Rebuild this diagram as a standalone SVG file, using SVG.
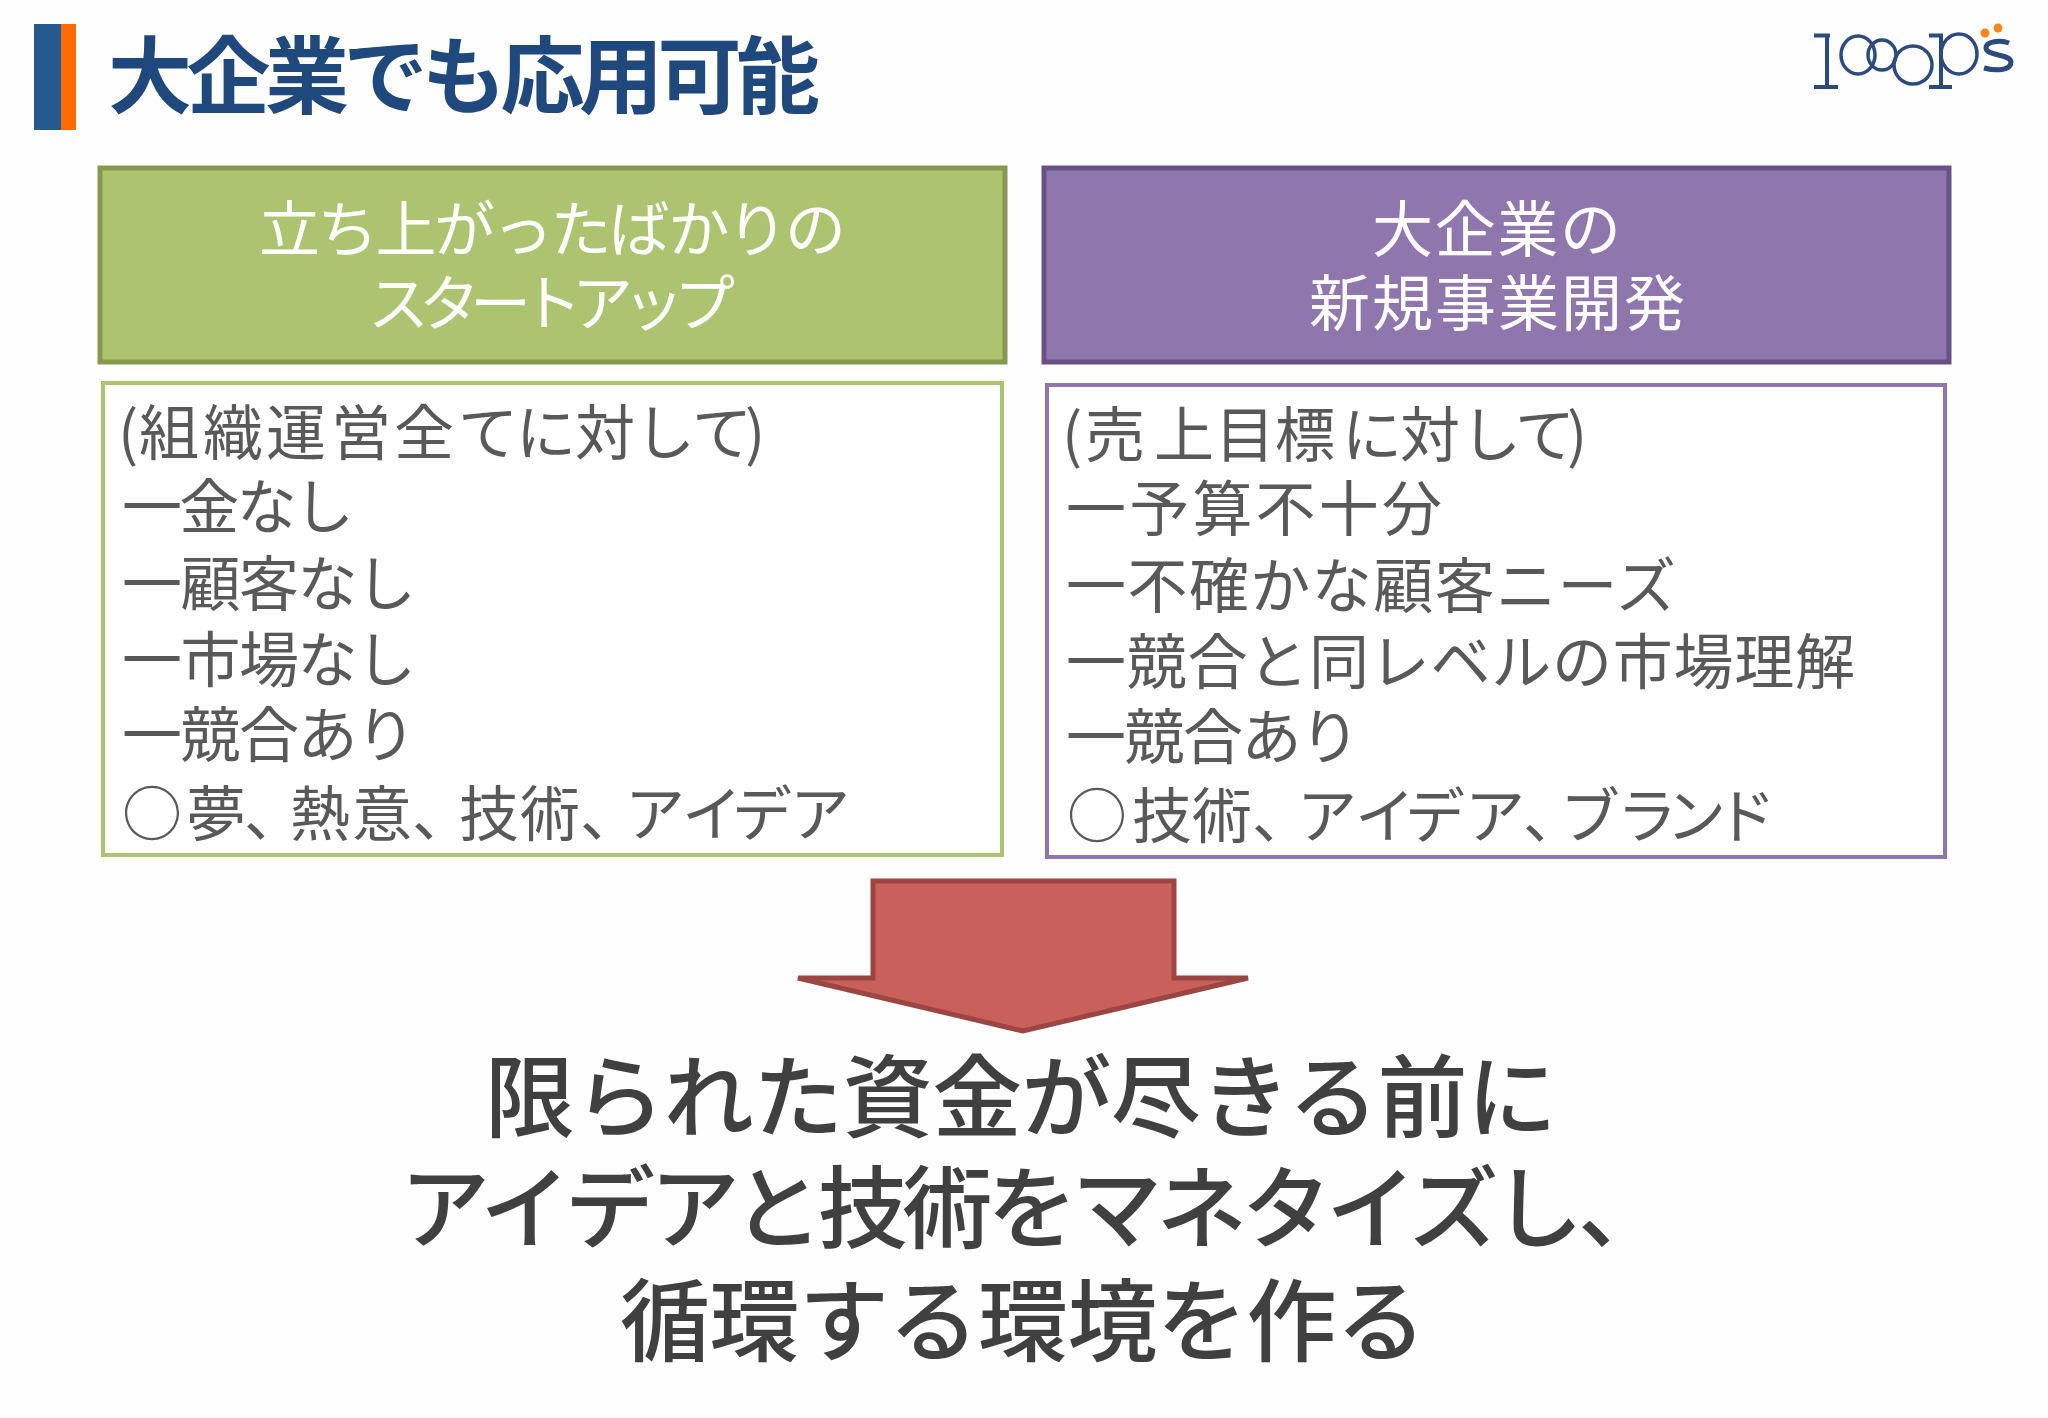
<svg xmlns="http://www.w3.org/2000/svg" width="2048" height="1418" viewBox="0 0 2048 1418">
<style>
text{font-family:"Noto Sans CJK JP","Noto Sans",sans-serif}
.title{font-size:84px;font-weight:700;fill:#1f497d}
.hd{font-size:61px;fill:#fff;font-weight:400}
.bd{font-size:60px;fill:#595959;font-weight:400}
.big{font-size:90px;fill:#404040;font-weight:500}
.logo{fill:none;stroke:#2b4a7e}
</style>
<rect width="2048" height="1418" fill="#fefefe"/>
<g id="title-bar"><rect x="34" y="24" width="27" height="106" fill="#255a8f"/><rect x="61" y="24" width="15" height="106" fill="#ff6a00"/></g>
<g id="title"><text class="title" x="108" y="107" textLength="712">大企業でも応用可能</text></g>
<g id="logo" class="logo">
<path d="M1814 35.500h16M1814 87h24M1827 35v52" stroke-width="4"/>
<ellipse cx="1858" cy="55" rx="17" ry="19" stroke-width="3.500"/>
<ellipse cx="1882" cy="55" rx="14" ry="15" stroke-width="3.500"/>
<circle cx="1913" cy="65" r="19" stroke-width="3.500"/>
<path d="M1929 35.500h14M1929 87h23M1941 35v52" stroke-width="4"/>
<ellipse cx="1959" cy="54" rx="18" ry="20" stroke-width="3.500"/>
<path d="M2009 43c-8-3-23-2-23 5c0 8 25 6 25 14c0 9-16 9-27 6" stroke-width="5"/>
<circle cx="1985" cy="33" r="4.500" fill="#f28a1c" stroke="none"/><circle cx="1998" cy="28" r="4.500" fill="#f28a1c" stroke="none"/>
</g>
<g id="header-left"><rect x="100" y="168" width="905" height="194" fill="#acc470" stroke="#87984f" stroke-width="5"/>
<text class="hd" x="259" y="252" textLength="587">立ち上がったばかりの</text><text class="hd" x="368" y="326" textLength="367">スタートアップ</text></g>
<g id="header-right"><rect x="1044" y="168" width="905" height="194" fill="#8f77ad" stroke="#675285" stroke-width="5"/>
<text class="hd" x="1372" y="252" textLength="249">大企業の</text><text class="hd" x="1309" y="326" textLength="376">新規事業開発</text></g>
<g id="body-left"><rect x="103" y="383" width="899" height="472" fill="#fff" stroke="#acc470" stroke-width="4"/>
<text class="bd" x="118 139 203 266 331 394 458 516 575 635 692 745" y="455">(組織運営全てに対して)</text>
<text class="bd" x="122" y="529" textLength="232">一金なし</text>
<text class="bd" x="122" y="606" textLength="294">一顧客なし</text>
<text class="bd" x="122" y="682" textLength="294">一市場なし</text>
<text class="bd" x="122" y="757" textLength="294">一競合あり</text>
<text class="bd" x="122 186 244 290 352 412 459 520 580 625 682 732 790" y="836">○夢、熱意、技術、アイデア</text></g>
<g id="body-right"><rect x="1047" y="385" width="898" height="472" fill="#fff" stroke="#8f77ad" stroke-width="4"/>
<text class="bd" x="1062 1085 1154 1215 1275 1342 1400 1461 1515 1567" y="457">(売上目標に対して)</text>
<text class="bd" x="1066" y="531" textLength="376">一予算不十分</text>
<text class="bd" x="1066" y="608" textLength="610">一不確かな顧客ニーズ</text>
<text class="bd" x="1066" y="684" textLength="789">一競合と同レベルの市場理解</text>
<text class="bd" x="1066" y="759" textLength="294">一競合あり</text>
<text class="bd" x="1067 1132 1192 1252 1297 1355 1405 1465 1523 1560 1617 1666 1716" y="838">○技術、アイデア、ブランド</text></g>
<g id="arrow"><path d="M873 881H1174V978H1248L1023 1031L798 978H873Z" fill="#c9605b" stroke="#9c4643" stroke-width="5"/></g>
<g id="conclusion">
<text class="big" x="485" y="1130" textLength="1072">限られた資金が尽きる前に</text>
<text class="big" x="400" y="1241" textLength="1268">アイデアと技術をマネタイズし、</text>
<text class="big" x="620" y="1354" textLength="806">循環する環境を作る</text></g>
</svg>
